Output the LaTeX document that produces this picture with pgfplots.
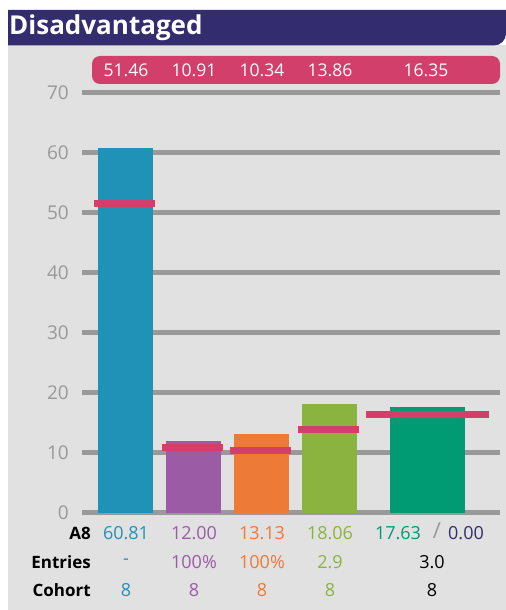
\documentclass[border=0pt]{standalone}
\usepackage{pgfplots}
\pgfplotsset{compat=1.18}
\usepackage{fontspec}
\setmainfont{Open Sans}

\definecolor{panel}{HTML}{E1E1E1}
\definecolor{navy}{HTML}{332C6E}
\definecolor{gridg}{HTML}{999999}
\definecolor{pinkred}{HTML}{D23F6B}
\definecolor{cblue}{HTML}{2092B8}
\definecolor{cpurple}{HTML}{9B5BA5}
\definecolor{corange}{HTML}{ED7A37}
\definecolor{cgreen}{HTML}{8BB33F}
\definecolor{cteal}{HTML}{009A73}

\newcommand{\fs}[1]{\fontsize{#1bp}{#1bp}\selectfont}

\begin{document}
\begin{tikzpicture}[x=1bp,y=-1bp]
% page and panel
\fill[white] (0,0) rectangle (506,610);
\fill[panel] (8,45) rectangle (506,610);
\fill[navy] (8,10) -- (506,10) [rounded corners=12bp] -- (506,45.5) [sharp corners] -- (8,45.5) -- cycle;
\node[anchor=base west, text=white, font=\fs{26}\bfseries, inner sep=0pt] at (9,35) {Disadvantaged};

\begin{axis}[
    at={(82bp,-512.5bp)}, anchor=south west,
    scale only axis,
    width=418bp, height=420bp,
    xmin=82, xmax=500,
    ymin=0, ymax=70,
    axis line style={draw=none},
    major tick length=0pt,
    xtick=\empty,
    ytick={0,10,...,70},
    ymajorgrids,
    major grid style={draw=gridg, line width=5bp},
    yticklabel style={font=\fs{19}, text=gridg, anchor=east, inner sep=0pt, xshift=-13bp},
    /pgf/number format/assume math mode=true,
    clip=false,
]
% bars (A8)
\addplot[ybar, bar shift=0pt, bar width=55, fill=cblue, draw=none] coordinates {(125.5,60.81)};
\addplot[ybar, bar shift=0pt, bar width=55, fill=cpurple, draw=none] coordinates {(193.5,12.00)};
\addplot[ybar, bar shift=0pt, bar width=55, fill=corange, draw=none] coordinates {(261.5,13.13)};
\addplot[ybar, bar shift=0pt, bar width=55, fill=cgreen, draw=none] coordinates {(329.5,18.06)};
\addplot[ybar, bar shift=0pt, bar width=75, fill=cteal, draw=none] coordinates {(427.5,17.63)};
% benchmark markers
\addplot[pinkred, line width=7bp, line cap=butt] coordinates {(94,51.46) (155,51.46)};
\addplot[pinkred, line width=7bp, line cap=butt] coordinates {(162,10.91) (223,10.91)};
\addplot[pinkred, line width=7bp, line cap=butt] coordinates {(230,10.34) (291,10.34)};
\addplot[pinkred, line width=7bp, line cap=butt] coordinates {(298,13.86) (359,13.86)};
\addplot[pinkred, line width=7bp, line cap=butt] coordinates {(366,16.35) (489,16.35)};
\end{axis}

% benchmark pill
\fill[pinkred, rounded corners=8bp] (92,56) rectangle (500,84);
\begin{scope}[every node/.style={text=white, font=\fs{17.5}, inner sep=0pt}]
\node at (126,70) {51.46};
\node at (194,70) {10.91};
\node at (262,70) {10.34};
\node at (330,70) {13.86};
\node at (426,70) {16.35};
\end{scope}

% table below
\begin{scope}[every node/.style={font=\fs{17}\bfseries, text=black, anchor=east, inner sep=0pt}]
\node at (91,533) {A8};
\node at (91,562) {Entries};
\node at (91,590) {Cohort};
\end{scope}
\begin{scope}[every node/.style={font=\fs{18}, inner sep=0pt}]
\node[text=cblue] at (126,533) {60.81};
\node[text=cpurple] at (194,533) {12.00};
\node[text=corange] at (262,533) {13.13};
\node[text=cgreen] at (330,533) {18.06};
\node[text=cteal] at (398,533) {17.63};
\node[text=gridg, font=\fs{22}] at (437,531) {/};
\node[text=navy] at (466,533) {0.00};
\node[text=cblue] at (126,562) {-};
\node[text=cpurple] at (194,562) {100\%};
\node[text=corange] at (262,562) {100\%};
\node[text=cgreen] at (330,562) {2.9};
\node[text=black] at (432,562) {3.0};
\node[text=cblue] at (126,590) {8};
\node[text=cpurple] at (194,590) {8};
\node[text=corange] at (262,590) {8};
\node[text=cgreen] at (330,590) {8};
\node[text=black] at (432,590) {8};
\end{scope}
\end{tikzpicture}
\end{document}
